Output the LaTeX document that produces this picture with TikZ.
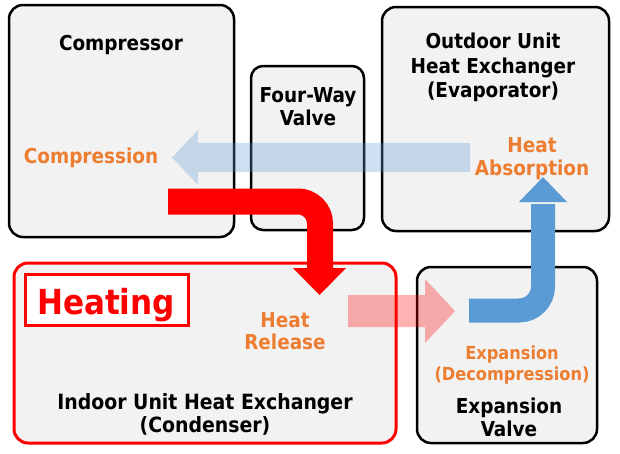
\documentclass[tikz,border=0pt]{standalone}
\usepackage{fontspec}
\setmainfont{DejaVu Sans Condensed}
\definecolor{boxgray}{HTML}{F2F2F2}
\definecolor{txtorange}{HTML}{ED7D31}
\definecolor{pipeblue}{HTML}{5B9BD5}
\definecolor{hotred}{HTML}{FF0000}
\tikzset{
  unit/.style={draw=black, line width=2.5pt, fill=boxgray, rounded corners=14pt},
  lbl/.style={font=\fontsize{20.5pt}{23.5pt}\selectfont\bfseries, align=center, inner sep=0pt, anchor=north},
  proc/.style={lbl, text=txtorange},
  procsmall/.style={proc, font=\fontsize{18pt}{20.5pt}\selectfont\bfseries},
}
\begin{document}
\begin{tikzpicture}[x=1pt, y=-1pt]
  \useasboundingbox (0,0) rectangle (620,453);

  % the units
  \draw[unit] (9,5) rectangle (234,237);
  \draw[unit, rounded corners=12pt] (251,66) rectangle (364,230);
  \draw[unit] (382,7) rectangle (609,231);
  \draw[unit, draw=hotred, line width=3pt] (14,263) rectangle (396,443);
  \draw[unit] (417,267) rectangle (597,443);
  \draw[draw=hotred, line width=3pt, fill=white] (25,274) rectangle (188,325);

  \node[lbl] (comptxt) at (121,35) {Compressor};
  \node[proc] (compr) at (91,148) {Compression};
  \node[lbl] (fwv) at (308,87) {Four-Way\\Valve};
  \node[lbl, font=\fontsize{20.5pt}{24.5pt}\selectfont\bfseries] (odu) at (493,33) {Outdoor Unit\\Heat Exchanger\\(Evaporator)};
  \node[proc] (absorb) at (532,137) {Heat\\Absorption};
  \node[lbl, text=hotred, font=\fontsize{34.5pt}{37pt}\selectfont\bfseries] (heating) at (106,288) {Heating};
  \node[proc, font=\fontsize{20.5pt}{22pt}\selectfont\bfseries] (release) at (285,312) {Heat\\Release};
  \node[lbl, font=\fontsize{21pt}{23.5pt}\selectfont\bfseries] (idu) at (205,393) {Indoor Unit Heat Exchanger\\(Condenser)};
  \node[procsmall] (expand) at (512,346) {Expansion\\(Decompression)};
  \node[lbl, font=\fontsize{20.5pt}{22.5pt}\selectfont\bfseries] (evtxt) at (509,398) {Expansion\\Valve};

  % refrigerant flow
  \fill[pipeblue, fill opacity=0.3] (470,143) -- (198,143) -- (198,130) -- (172,157.5)
    -- (198,185) -- (198,172) -- (470,172) -- cycle;

  \coordinate (R0) at (168,201.5);
  \coordinate (R1) at (320,270);
  \draw[hotred, line width=26pt, rounded corners=22pt] (R0) -| (R1);
  \fill[hotred] (293,268) -- (346,268) -- (319.5,295) -- cycle;

  \fill[hotred, fill opacity=0.3] (348,295) -- (425,295) -- (425,279) -- (455,311)
    -- (425,343) -- (425,327) -- (348,327) -- cycle;

  \coordinate (B0) at (469,310.5);
  \coordinate (B1) at (543,204);
  \draw[pipeblue, line width=24pt, rounded corners=24pt] (B0) -| (B1);
  \fill[pipeblue] (519,202) -- (567,202) -- (543,177) -- cycle;
\end{tikzpicture}
\end{document}
